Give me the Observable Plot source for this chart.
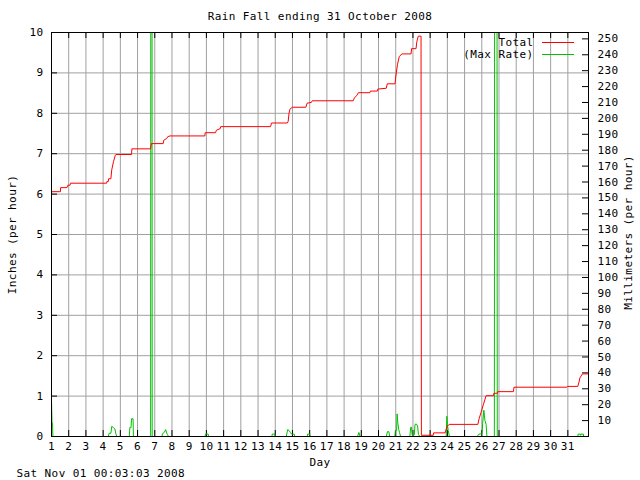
<!DOCTYPE html>
<html><head><meta charset="utf-8">
<script src="https://cdn.jsdelivr.net/npm/d3@7"></script>
<script src="https://cdn.jsdelivr.net/npm/@observablehq/plot@0.6"></script>
<style>
body{margin:0;background:#fff;}
#wrap{position:relative;width:640px;height:480px;}
svg text{letter-spacing:0.4px;}
.sw{position:absolute;left:542px;width:32px;height:1px;}
</style></head><body><div id="wrap"></div>
<script>
const title = "Rain Fall ending 31 October 2008";
const timestamp = "Sat Nov 01 00:03:03 2008";
const xLabel = "Day";
const yLabelLeft = "Inches (per hour)";
const yLabelRight = "Millimeters (per hour)";
const seriesNames = ["Total", "(Max Rate)"];
const seriesColors = ["#ff0000", "#00c000"];
const dayTicks = [1,2,3,4,5,6,7,8,9,10,11,12,13,14,15,16,17,18,19,20,21,22,23,24,25,26,27,28,29,30,31];
const inchTicks = [0,1,2,3,4,5,6,7,8,9,10];
const mmTicks = [10,20,30,40,50,60,70,80,90,100,110,120,130,140,150,160,170,180,190,200,210,220,230,240,250];

// Total (inches), cumulative
const totalDay = [1.00,1.01,1.52,1.53,1.90,1.95,2.08,2.10,4.20,4.22,4.30,4.32,4.45,4.50,4.60,4.70,4.74,5.65,5.67,6.76,6.80,7.49,7.52,7.70,7.75,7.88,9.91,9.93,10.53,10.58,10.80,10.83,13.73,13.78,14.70,14.75,14.80,14.85,14.99,15.78,15.85,16.10,16.15,18.53,18.60,18.75,18.83,19.50,19.53,19.93,19.96,20.45,20.51,20.96,21.00,21.10,21.20,21.35,21.89,21.92,22.18,22.22,22.31,22.47,22.49,23.18,23.20,23.87,23.90,24.00,24.10,25.77,25.85,25.96,26.05,26.10,26.25,26.68,26.70,26.91,26.93,27.84,27.87,30.94,30.97,31.58,31.65,31.70,31.85,32.20];
const totalIn  = [5.95,6.06,6.06,6.16,6.16,6.22,6.22,6.27,6.27,6.31,6.31,6.38,6.38,6.60,6.80,6.95,6.98,6.98,7.12,7.12,7.25,7.25,7.33,7.38,7.42,7.44,7.44,7.52,7.52,7.58,7.62,7.67,7.67,7.76,7.76,7.80,8.00,8.10,8.15,8.15,8.25,8.27,8.31,8.31,8.38,8.45,8.51,8.51,8.55,8.55,8.60,8.62,8.73,8.73,8.90,9.20,9.40,9.47,9.47,9.60,9.60,9.76,9.91,9.91,0.03,0.03,0.09,0.09,0.15,0.25,0.30,0.30,0.45,0.60,0.73,0.80,1.01,1.01,1.07,1.07,1.11,1.11,1.22,1.22,1.24,1.24,1.35,1.45,1.55,1.55];

// Max rate (inches per hour)
const rateDay = [1.00,1.03,1.06,1.08,4.30,4.35,4.45,4.50,4.60,4.68,4.75,4.80,5.52,5.55,5.62,5.65,5.74,5.76,6.76,6.805,6.85,7.42,7.45,7.55,7.63,7.70,7.74,7.80,9.92,9.95,10.10,10.13,13.80,13.83,13.97,14.00,14.64,14.72,14.80,14.88,14.95,15.10,15.13,15.86,15.88,16.00,16.03,18.78,18.86,18.93,20.45,20.52,20.60,20.65,20.95,20.98,21.05,21.08,21.12,21.17,21.22,21.28,21.82,21.87,21.92,21.95,22.08,22.12,22.20,22.27,22.32,22.40,23.93,23.97,24.00,24.05,24.12,25.75,25.80,25.95,26.02,26.05,26.12,26.18,26.25,26.30,26.73,26.815,26.90,31.58,31.60,31.72,31.74,31.76,31.90,31.92,32.20];
const rateIn  = [0.91,0.33,0.33,0,0,0.08,0.08,0.25,0.22,0.19,0.05,0,0,0.22,0.22,0.44,0.44,0,0,60,0,0,0.07,0.10,0.17,0.08,0.05,0,0,0.06,0.06,0,0,0.06,0.06,0,0,0.17,0.15,0.10,0.06,0.06,0,0,0.06,0.06,0,0,0.10,0,0,0.12,0.12,0,0,0.15,0.15,0.56,0.35,0.18,0.10,0,0,0.23,0.23,0.04,0.04,0.30,0.31,0.26,0.05,0,0,0.50,0.30,0.15,0,0,0.05,0.07,0.07,0.33,0.65,0.40,0.30,0,0,60,0,0,0.06,0.06,0.03,0.06,0.06,0,0];

const total = totalDay.map((d, i) => ({day: d, v: totalIn[i]}));
const rate = rateDay.map((d, i) => ({day: d, v: rateIn[i]}));

const W = 640, H = 480, mL = 51, mR = 52, mT = 32, mB = 44;
const pw = W - mL - mR, ph = H - mT - mB;
const font = "'DejaVu Sans Mono', monospace";
const grid = "#a0a0a0";
const mid = {lineAnchor: "middle"};

const chart = Plot.plot({
  width: W, height: H,
  marginLeft: mL, marginRight: mR, marginTop: mT, marginBottom: mB,
  style: {fontFamily: font, fontSize: "11px", background: "#fff", color: "#000", overflow: "visible"},
  x: {domain: [1, 32.2], axis: null},
  y: {domain: [0, 10], axis: null},
  marks: [
    Plot.gridX(dayTicks.slice(1), {stroke: grid, strokeOpacity: 1}),
    Plot.gridY(inchTicks.slice(1, -1), {stroke: grid, strokeOpacity: 1}),
    Plot.gridX(dayTicks, {stroke: "#000", strokeOpacity: 1, insetTop: ph - 6}),
    Plot.gridX(dayTicks, {stroke: "#000", strokeOpacity: 1, insetBottom: ph - 6}),
    Plot.gridY(inchTicks, {stroke: "#000", strokeOpacity: 1, insetRight: pw - 6}),
    Plot.gridY(mmTicks.map(m => m / 25.4), {stroke: "#000", strokeOpacity: 1, insetLeft: pw - 6}),
    Plot.line(rate, {x: "day", y: "v", stroke: seriesColors[1], strokeWidth: 1, clip: true}),
    Plot.line(total, {x: "day", y: "v", stroke: seriesColors[0], strokeWidth: 1, clip: true}),
    Plot.frame({stroke: "#000"}),
    Plot.text(dayTicks, {x: d => d, text: d => String(d), frameAnchor: "bottom", dy: 10, ...mid}),
    Plot.text(inchTicks, {y: d => d, text: d => String(d), frameAnchor: "left", textAnchor: "end", dx: -8, ...mid}),
    Plot.text(mmTicks, {y: d => d / 25.4, text: d => String(d), frameAnchor: "right", textAnchor: "start", dx: 9, ...mid}),
    Plot.text([title], {text: d => d, frameAnchor: "top", dy: -16, ...mid}),
    Plot.text([xLabel], {text: d => d, frameAnchor: "bottom", dy: 26, ...mid}),
    Plot.text([timestamp], {text: d => d, frameAnchor: "bottom-left", textAnchor: "start", dx: -35, dy: 37, ...mid}),
    Plot.text([yLabelLeft], {text: d => d, frameAnchor: "left", textAnchor: "middle", dx: -39, rotate: -90, ...mid}),
    Plot.text([yLabelRight], {text: d => d, frameAnchor: "right", textAnchor: "middle", dx: 40, dy: -2, rotate: -90, ...mid}),
    Plot.text([seriesNames[0]], {text: d => d, frameAnchor: "top-right", textAnchor: "end", dx: -55, dy: 10, ...mid}),
    Plot.text([seriesNames[1]], {text: d => d, frameAnchor: "top-right", textAnchor: "end", dx: -55, dy: 22, ...mid})
  ]
});
const wrap = document.getElementById("wrap");
wrap.appendChild(chart);
[42, 54].forEach((top, i) => {
  const s = document.createElement("div");
  s.className = "sw";
  s.style.top = top + "px";
  s.style.background = seriesColors[i];
  wrap.appendChild(s);
});
</script></body></html>
